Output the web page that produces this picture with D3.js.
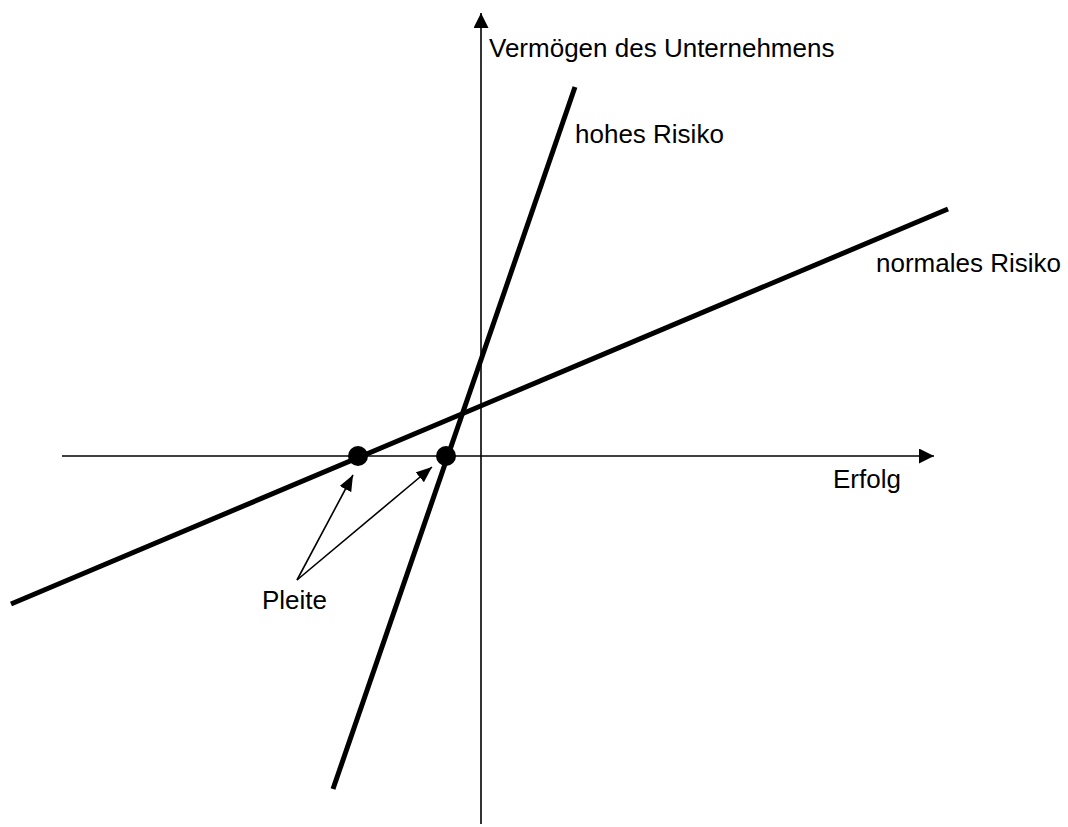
<!DOCTYPE html>
<html>
<head>
<meta charset="utf-8">
<script src="https://cdn.jsdelivr.net/npm/d3@7"></script>
<style>
	html, body { margin: 0; padding: 0; background: #fff; }
	svg { display: block; }
	text { font-family: "Liberation Sans", Arial, sans-serif; font-size: 26px; fill: #000; }
</style>
</head>
<body>
<div id="chart"></div>
<script>
// axes (Erfolg / Vermögen), in chart units, origin at 0,0
var xAxisExtent = [-10.475, 11.325];
var yAxisExtent = [-9.2, 11.075];

// the two risk lines: [x, y] start and end
var riskNames = ['normales Risiko', 'hohes Risiko'];
var riskLines = [
	[[-11.75, -3.7], [11.675, 6.175]],
	[[-3.7, -8.325], [2.35, 9.225]]
];

// bankruptcy points on the x axis
var ruinX = [-3.075, -0.875];

// "Pleite" pointer: start point and arrow tips
var pointerFrom = [-4.6, -3.1];
var pointerTips = [[-3.2, -0.475], [-1.225, -0.275]];

// labels
var labelTexts = ['Vermögen des Unternehmens', 'hohes Risiko', 'normales Risiko', 'Erfolg', 'Pleite'];
var labelPos = [[0.2, 9.975], [2.35, 7.825], [9.875, 4.6], [8.8, -0.8], [-5.475, -3.825]];

var width = 1068, height = 827;

var x = d3.scaleLinear().domain([-10, 10]).range([81, 881]);
var y = d3.scaleLinear().domain([-10, 10]).range([856, 56]);

var svg = d3.select('#chart').append('svg')
	.attr('width', width)
	.attr('height', height);

var defs = svg.append('defs');
defs.append('marker')
	.attr('id', 'axisHead')
	.attr('markerUnits', 'userSpaceOnUse')
	.attr('viewBox', '0 0 15 15')
	.attr('refX', 15).attr('refY', 7.5)
	.attr('markerWidth', 15).attr('markerHeight', 15)
	.attr('orient', 'auto')
	.append('path').attr('d', 'M0,0 L15,7.5 L0,15 Z').attr('fill', '#000');
defs.append('marker')
	.attr('id', 'pointerHead')
	.attr('markerUnits', 'userSpaceOnUse')
	.attr('viewBox', '0 0 16 13')
	.attr('refX', 16).attr('refY', 6.5)
	.attr('markerWidth', 16).attr('markerHeight', 13)
	.attr('orient', 'auto')
	.append('path').attr('d', 'M0,0 L16,6.5 L0,13 Z').attr('fill', '#000');

// axes
svg.append('line')
	.attr('x1', x(xAxisExtent[0])).attr('x2', x(xAxisExtent[1]))
	.attr('y1', y(0)).attr('y2', y(0))
	.attr('stroke', '#000').attr('stroke-width', 1.6)
	.attr('marker-end', 'url(#axisHead)');
svg.append('line')
	.attr('x1', x(0)).attr('x2', x(0))
	.attr('y1', y(yAxisExtent[0])).attr('y2', y(yAxisExtent[1]))
	.attr('stroke', '#000').attr('stroke-width', 1.6)
	.attr('marker-end', 'url(#axisHead)');

// risk lines
svg.selectAll('line.risk')
	.data(riskLines).enter()
	.append('line')
	.attr('class', 'risk')
	.attr('x1', function(d){ return x(d[0][0]); })
	.attr('y1', function(d){ return y(d[0][1]); })
	.attr('x2', function(d){ return x(d[1][0]); })
	.attr('y2', function(d){ return y(d[1][1]); })
	.attr('stroke', '#000')
	.attr('stroke-width', 5);

// pointers to the bankruptcy points
svg.selectAll('line.pointer')
	.data(pointerTips).enter()
	.append('line')
	.attr('class', 'pointer')
	.attr('x1', x(pointerFrom[0]))
	.attr('y1', y(pointerFrom[1]))
	.attr('x2', function(d){ return x(d[0]); })
	.attr('y2', function(d){ return y(d[1]); })
	.attr('stroke', '#000')
	.attr('stroke-width', 1.6)
	.attr('marker-end', 'url(#pointerHead)');

// bankruptcy dots
svg.selectAll('circle')
	.data(ruinX).enter()
	.append('circle')
	.attr('cx', function(d){ return x(d); })
	.attr('cy', y(0))
	.attr('r', 10)
	.attr('fill', '#000');

// labels
svg.selectAll('text')
	.data(labelTexts).enter()
	.append('text')
	.attr('x', function(d, i){ return x(labelPos[i][0]); })
	.attr('y', function(d, i){ return y(labelPos[i][1]); })
	.text(function(d){ return d; });
</script>
</body>
</html>
